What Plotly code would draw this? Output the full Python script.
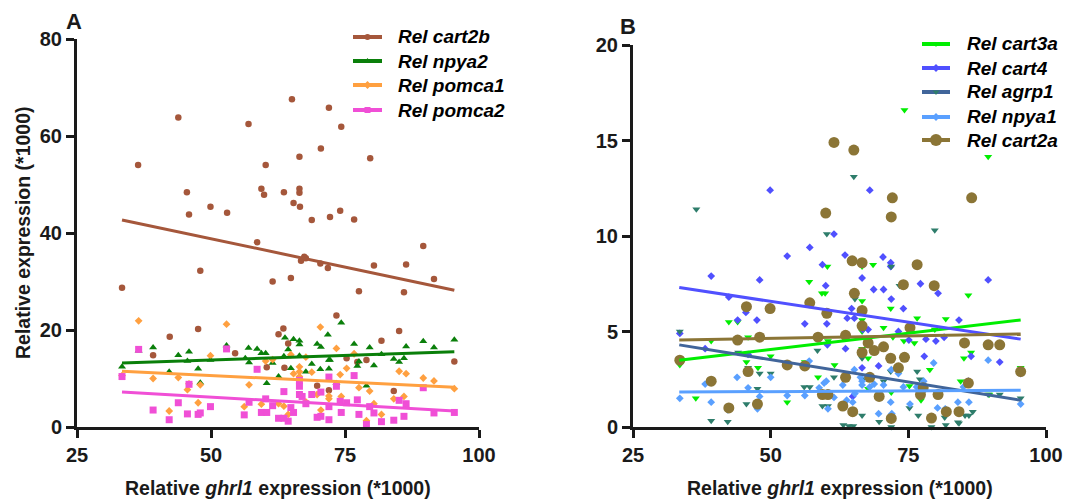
import plotly.graph_objects as go

# ---------------- Panel A data ----------------
cart2b_x = [36.4, 43.9, 57.0, 65.1, 72.0, 74.3, 70.5, 66.5, 79.7, 60.2, 45.5, 59.4, 59.9, 63.6, 66.5, 66.5, 65.4, 66.6,
            49.9, 45.9, 53.0, 68.8, 72.2, 74.1, 76.7, 58.6, 89.6, 33.4, 48.0, 61.5, 64.9, 66.8, 67.7, 67.4, 70.4, 71.8,
            80.4, 86.4, 77.6, 86.0, 91.6, 73.4, 42.3, 47.6, 63.5, 62.6, 64.4, 85.1, 81.8, 39.2, 54.5, 60.4, 63.7, 75.3,
            77.3, 79.0, 95.4, 69.8, 72.0, 84.1]
cart2b_y = [54.0, 63.8, 62.5, 67.6, 65.8, 61.9, 57.4, 55.7, 55.4, 54.0, 48.4, 49.1, 47.9, 48.4, 49.1, 48.3, 46.2, 45.4,
            45.4, 43.8, 44.2, 42.7, 43.3, 44.6, 42.8, 38.1, 37.3, 28.7, 32.2, 30.0, 30.7, 34.3, 34.8, 35.1, 33.7, 32.8,
            33.3, 33.5, 28.0, 27.8, 30.5, 23.0, 18.6, 20.2, 20.3, 19.1, 17.2, 19.8, 17.8, 14.8, 15.2, 12.3, 12.2, 14.2,
            13.4, 13.8, 13.5, 8.5, 7.6, 7.4]

npya2_x = [33.4, 36.5, 39.2, 42.2, 43.9, 45.6, 45.9, 47.6, 48.0, 49.9, 52.9, 57.0, 58.6, 57.1, 56.4, 59.4, 60.2, 60.4,
           61.5, 62.6, 63.6, 63.8, 64.4, 64.9, 65.4, 66.5, 66.5, 66.5, 67.7, 68.8, 69.8, 70.5, 70.4, 71.8, 72.0, 72.0,
           72.2, 73.4, 74.3, 76.7, 77.3, 77.6, 79.0, 79.6, 80.4, 81.8, 84.1, 85.1, 86.0, 86.4, 89.6, 91.6, 95.4]
npya2_y = [12.4, 15.7, 16.4, 11.4, 14.8, 13.6, 15.5, 12.0, 9.1, 13.8, 16.8, 16.3, 16.1, 13.3, 14.2, 15.2, 15.2, 9.0,
           13.2, 10.4, 14.6, 18.4, 16.0, 12.1, 18.1, 17.8, 17.0, 14.7, 11.4, 13.0, 17.1, 16.5, 11.9, 19.0, 13.8, 12.0,
           13.8, 9.0, 21.5, 17.1, 12.6, 13.5, 8.5, 16.4, 12.7, 15.0, 14.0, 13.4, 14.2, 16.6, 17.7, 16.4, 18.0]

pomca1_x = [33.4, 36.5, 39.2, 42.2, 43.9, 45.6, 45.9, 47.6, 48.0, 49.9, 52.9, 56.2, 57.1, 59.4, 60.2, 61.5, 62.6, 63.6,
            64.4, 64.9, 65.4, 66.5, 66.5, 66.5, 67.7, 67.7, 68.8, 69.8, 70.4, 70.5, 72.0, 72.0, 73.4, 74.3, 74.1, 75.3,
            76.7, 77.6, 79.6, 79.0, 80.4, 81.8, 84.1, 85.1, 86.0, 86.4, 89.6, 91.6, 95.4]
pomca1_y = [10.6, 21.9, 10.0, 3.3, 10.2, 7.7, 8.9, 5.0, 8.7, 14.7, 21.2, 4.2, 8.7, 4.7, 13.6, 13.9, 4.8, 4.3,
            2.6, 14.9, 11.0, 12.4, 11.4, 10.4, 14.4, 5.2, 11.3, 6.7, 20.6, 3.5, 6.4, 5.8, 16.2, 6.3, 10.8, 12.1,
            15.1, 8.1, 7.4, 1.3, 4.8, 2.6, 5.8, 11.5, 6.3, 11.0, 10.1, 9.5, 7.9]

pomca2_x = [33.4, 36.5, 39.2, 42.2, 43.9, 45.6, 45.9, 47.6, 48.0, 49.9, 52.9, 56.2, 57.1, 58.6, 59.4, 60.2, 60.4, 61.5,
            62.6, 63.6, 63.6, 64.4, 64.9, 65.4, 66.5, 66.5, 66.5, 67.0, 67.7, 68.8, 69.8, 70.5, 70.5, 72.0, 72.0, 72.0,
            73.4, 74.1, 75.3, 74.3, 76.7, 77.3, 77.6, 79.6, 79.0, 80.4, 81.8, 84.1, 85.1, 86.0, 86.4, 89.6, 91.6, 95.4]
pomca2_y = [10.4, 16.0, 3.5, 1.5, 5.0, 2.7, 8.8, 2.6, 2.9, 4.2, 16.1, 2.5, 5.1, 11.9, 3.0, 5.8, 3.0, 4.4,
            1.8, 7.3, 1.8, 1.2, 4.0, 3.0, 9.6, 8.4, 6.7, 6.3, 4.8, 6.7, 2.0, 7.2, 2.2, 10.3, 4.2, 1.5,
            8.4, 5.3, 5.0, 3.0, 10.6, 5.6, 2.6, 4.2, 0.5, 2.9, 1.1, 1.4, 5.5, 2.2, 4.8, 8.1, 2.9, 3.0]

# ---------------- Panel B data ----------------
cart2a_x = [61.5, 65.1, 72.1, 86.5, 60.0, 71.9, 64.8, 66.6, 76.6, 74.1, 79.7, 65.2, 57.1, 45.6, 49.9, 60.2, 66.6, 66.6,
            75.3, 68.8, 58.6, 63.6, 67.7, 44.0, 48.0, 70.5, 66.6, 85.2, 89.5, 91.6, 74.3, 71.8, 73.2, 33.5, 53.0, 56.2,
            45.9, 95.4, 63.6, 68.0, 39.2, 85.9, 77.7, 59.4, 60.4, 69.7, 77.2, 80.4, 47.6, 63.1, 42.4, 64.9, 81.9, 84.2,
            79.2, 71.9]
cart2a_y = [14.9, 14.5, 12.0, 12.0, 11.2, 11.0, 8.7, 8.6, 8.5, 7.45, 7.4, 7.0, 6.5, 6.3, 6.2, 5.95, 6.1, 5.3,
            5.2, 4.0, 4.7, 4.8, 4.4, 4.55, 4.7, 4.2, 3.9, 4.4, 4.3, 4.3, 3.65, 3.6, 3.1, 3.5, 3.25, 3.2,
            2.9, 2.9, 2.6, 2.6, 2.4, 2.3, 2.06, 1.7, 1.7, 1.6, 1.7, 1.7, 1.2, 1.1, 1.0, 0.8, 0.8, 0.8,
            0.47, 0.45]

cart3a_x = [74.3, 89.5, 64.8, 68.6, 60.3, 66.6, 57.0, 59.3, 59.9, 85.9, 66.6, 71.8, 76.6, 81.8, 42.4, 44.0, 66.6, 66.6,
            70.5, 79.8, 45.9, 39.2, 63.6, 72.2, 74.2, 76.1, 66.6, 60.4, 70.5, 50.0, 67.7, 33.5, 45.6, 56.2, 61.6, 85.1,
            86.4, 95.4, 73.4, 78.9, 58.6, 84.5, 47.7, 75.2, 60.4, 69.7, 71.9, 67.7, 36.4, 77.3, 53.0, 89.7]
cart3a_y = [16.6, 14.15, 8.8, 8.5, 8.4, 8.4, 7.6, 7.0, 7.0, 6.9, 6.6, 6.2, 5.7, 5.65, 5.5, 5.5, 5.6, 5.0,
            5.2, 5.1, 4.7, 4.5, 4.8, 4.7, 4.5, 4.4, 4.1, 4.5, 4.1, 3.7, 3.6, 3.25, 3.4, 3.4, 3.25, 3.6,
            3.9, 3.1, 2.9, 3.0, 2.6, 2.4, 3.1, 2.15, 1.7, 1.7, 1.8, 2.0, 1.5, 1.4, 1.3, 1.7]

cart4_x = [49.9, 68.0, 61.5, 57.1, 53.0, 63.5, 70.4, 71.8, 71.8, 59.4, 39.2, 48.0, 66.6, 89.5, 77.2, 60.0, 68.7, 70.5,
           80.4, 42.4, 71.9, 45.5, 64.7, 74.1, 44.0, 47.5, 63.9, 65.2, 60.2, 56.2, 84.2, 66.7, 67.7, 73.2, 75.1, 81.5,
           78.2, 80.0, 33.5, 60.3, 38.1, 45.9, 86.4, 77.9, 74.4, 63.6, 69.6, 66.6, 91.6, 95.4, 85.9, 64.9]
cart4_y = [12.4, 12.4, 10.1, 9.4, 8.95, 9.0, 8.9, 8.6, 8.4, 8.5, 7.9, 7.7, 7.8, 7.7, 7.5, 7.4, 7.2, 7.2,
           7.0, 6.8, 6.7, 6.0, 6.2, 6.2, 5.6, 5.6, 5.7, 5.7, 5.4, 5.4, 5.6, 5.1, 5.1, 5.0, 4.55, 4.7,
           4.6, 4.5, 4.9, 4.3, 4.1, 3.8, 3.7, 3.7, 3.6, 4.1, 3.2, 3.1, 3.4, 2.8, 2.4, 1.6]

agrp1_x = [36.5, 65.1, 71.9, 79.8, 60.2, 71.9, 73.4, 65.3, 33.5, 44.1, 58.5, 66.6, 45.9, 50.0, 48.0, 71.8, 76.6, 61.5,
           77.1, 70.5, 66.8, 56.1, 57.1, 47.6, 65.2, 69.6, 89.5, 91.6, 95.4, 59.4, 45.6, 60.4, 63.1, 75.2, 86.0, 86.7,
           85.3, 39.2, 42.2, 66.6, 76.8, 81.6, 84.0, 69.7, 71.9, 63.2, 64.2, 65.0, 79.2, 81.8, 84.2]
agrp1_y = [11.4, 13.1, 11.0, 10.3, 10.1, 8.4, 7.4, 6.7, 5.0, 3.9, 4.0, 3.6, 3.1, 2.8, 2.8, 2.9, 2.9, 2.6,
           2.5, 2.4, 2.5, 2.1, 2.1, 2.0, 1.85, 1.6, 1.7, 1.7, 1.5, 1.1, 1.2, 1.1, 1.1, 1.0, 0.6, 0.8,
           0.6, 0.33, 0.27, 0.6, 0.6, 0.5, 0.25, 0.27, 0.0, 0.1, 0.05, 0.05, 0.0, 0.1, 0.2]

npya1_x = [33.5, 38.1, 39.2, 42.2, 43.9, 45.9, 48.0, 47.6, 50.0, 53.0, 56.2, 57.0, 58.8, 59.7, 60.1, 60.4, 61.5, 63.1,
           63.6, 63.8, 64.9, 65.2, 65.3, 66.3, 66.6, 66.6, 67.5, 68.0, 68.8, 69.6, 70.5, 71.8, 71.9, 72.0, 73.2, 74.1,
           75.3, 76.5, 77.2, 77.8, 79.6, 80.3, 81.7, 84.0, 85.0, 86.0, 89.5, 95.4]
npya1_y = [1.5, 2.25, 1.3, 0.9, 2.6, 2.05, 1.6, 0.95, 2.6, 1.65, 1.65, 3.45, 2.05, 2.3, 2.4, 0.95, 1.55, 2.2,
           2.6, 1.4, 1.3, 3.0, 1.75, 2.6, 2.4, 2.2, 2.6, 2.1, 2.25, 0.7, 2.2, 1.3, 3.0, 0.7, 2.8, 2.1,
           1.2, 2.1, 1.6, 2.4, 3.35, 1.0, 0.95, 1.3, 2.1, 1.3, 3.5, 1.2]

# linear-fit values read at the two ends of the fitted range
fit_x = [33.4, 95.4]
fit_A = {"cart2b": [42.7, 28.2], "npya2": [13.2, 15.5], "pomca1": [11.5, 8.2], "pomca2": [7.2, 3.3]}
fit_B = {"cart3a": [3.5, 5.6], "cart4": [7.3, 4.6], "agrp1": [4.3, 1.4], "npya1": [1.83, 1.92], "cart2a": [4.55, 4.87]}

x_ticks = [25, 50, 75, 100]
yA_ticks = [0, 20, 40, 60, 80]
yB_ticks = [0, 5, 10, 15, 20]

FONT = "Liberation Sans, Arial, sans-serif"
INK = "#1a1a1a"

seriesA = [
    # name, x, y, symbol, marker color, line color, size
    ("cart2b", cart2b_x, cart2b_y, "circle", "#A5573B", "#A5573B", 6.5),
    ("npya2", npya2_x, npya2_y, "triangle-up", "#0A7F0A", "#0A7F0A", 7),
    ("pomca1", pomca1_x, pomca1_y, "diamond", "#FFA040", "#FFA040", 6),
    ("pomca2", pomca2_x, pomca2_y, "square", "#F04FD6", "#F04FD6", 7),
]
seriesB = [
    ("cart3a", cart3a_x, cart3a_y, "triangle-down", "#00EE00", "#00EE00", 7),
    ("cart4", cart4_x, cart4_y, "diamond", "#5050FF", "#5050FF", 6),
    ("agrp1", agrp1_x, agrp1_y, "triangle-down", "#2E7D6B", "#41659A", 7),
    ("npya1", npya1_x, npya1_y, "diamond", "#5AA0FF", "#5AA0FF", 6),
    ("cart2a", cart2a_x, cart2a_y, "circle", "#8B7536", "#8B7536", 11),
]

W, H = 1067, 501
fig = go.Figure()

def add_panel(series, fits, xa, ya):
    for name, xs, ys, sym, mc, lc, sz in series:
        fig.add_trace(go.Scatter(x=xs, y=ys, mode="markers", xaxis=xa, yaxis=ya, showlegend=False,
                                 cliponaxis=False, hoverinfo="x+y",
                                 marker=dict(symbol=sym, size=sz, color=mc, line=dict(width=0))))
    for name, xs, ys, sym, mc, lc, sz in series:
        fig.add_trace(go.Scatter(x=fit_x, y=fits[name], mode="lines", xaxis=xa, yaxis=ya, showlegend=False,
                                 line=dict(color=lc, width=3)))

add_panel(seriesA, fit_A, "x", "y")
add_panel(seriesB, fit_B, "x2", "y2")

# ---- legends (drawn on a hidden pixel-space axis covering the figure so spacing matches) ----
LEG_FONT = dict(family=FONT, size=19, color="#000", weight="bold", style="italic")
annotations = []

def add_legend(series, x0, x1, tx, rows):
    for (name, xs, ys, sym, mc, lc, sz), ry in zip(series, rows):
        fig.add_trace(go.Scatter(x=[x0, x1], y=[ry, ry], mode="lines", xaxis="x3", yaxis="y3",
                                 showlegend=False, hoverinfo="skip", line=dict(color=lc, width=4)))
        fig.add_trace(go.Scatter(x=[(x0 + x1) / 2], y=[ry], mode="markers", xaxis="x3", yaxis="y3",
                                 showlegend=False, hoverinfo="skip",
                                 marker=dict(symbol=sym, size=12 if sz > 10 else 6, color=mc, line=dict(width=0))))
        annotations.append(dict(text="Rel " + name, x=tx / W, y=1 - ry / H, xref="paper", yref="paper",
                                xanchor="left", yanchor="middle", showarrow=False, font=LEG_FONT))

add_legend(seriesA, 353, 382, 396, [37, 61, 85, 110])
add_legend(seriesB, 922, 950, 965, [44, 68, 92, 117, 140])

axis_common = dict(showline=True, linecolor=INK, linewidth=3, ticks="outside", ticklen=8, tickwidth=3,
                   tickcolor=INK, showgrid=False, zeroline=False, automargin=False,
                   tickfont=dict(family=FONT, size=20, color=INK, weight="bold"))

TITLE_FONT = dict(family=FONT, size=19.5, color=INK, weight="bold")
xA_dom = [77 / W, 479 / W]
xB_dom = [633 / W, 1046 / W]
for dom in (xA_dom, xB_dom):
    annotations.append(dict(text="Relative <i>ghrl1</i> expression (*1000)", x=(dom[0] + dom[1]) / 2, y=1 - 488 / H,
                            xref="paper", yref="paper", xanchor="center", yanchor="middle", showarrow=False,
                            font=TITLE_FONT))
annotations.append(dict(text="Relative expression (*1000)", x=23 / W, y=1 - 233 / H, textangle=-90,
                        xref="paper", yref="paper", xanchor="center", yanchor="middle", showarrow=False,
                        font=TITLE_FONT))
annotations.append(dict(text="A", x=74 / W, y=1 - 21 / H, xref="paper", yref="paper", showarrow=False,
                        xanchor="center", yanchor="middle",
                        font=dict(family=FONT, size=22, color=INK, weight="bold")))
annotations.append(dict(text="B", x=628 / W, y=1 - 26 / H, xref="paper", yref="paper", showarrow=False,
                        xanchor="center", yanchor="middle",
                        font=dict(family=FONT, size=22, color=INK, weight="bold")))

fig.update_layout(
    width=W, height=H, margin=dict(l=0, r=0, t=0, b=0),
    paper_bgcolor="white", plot_bgcolor="rgba(0,0,0,0)", showlegend=False,
    xaxis=dict(domain=xA_dom, range=[25, 100], tickvals=x_ticks, anchor="y", **axis_common),
    yaxis=dict(domain=[(H - 427) / H, (H - 39) / H], range=[0, 80], tickvals=yA_ticks, anchor="x", **axis_common),
    xaxis2=dict(domain=xB_dom, range=[25, 100], tickvals=x_ticks, anchor="y2", **axis_common),
    yaxis2=dict(domain=[(H - 427) / H, (H - 45) / H], range=[0, 20], tickvals=yB_ticks, anchor="x2", **axis_common),
    xaxis3=dict(domain=[0, 1], range=[0, W], visible=False, fixedrange=True, anchor="y3"),
    yaxis3=dict(domain=[0, 1], range=[H, 0], visible=False, fixedrange=True, anchor="x3"),
    annotations=annotations,
)

fig.write_html("out.html", config={"displayModeBar": False},
               post_script="document.body.style.margin='0px';")
